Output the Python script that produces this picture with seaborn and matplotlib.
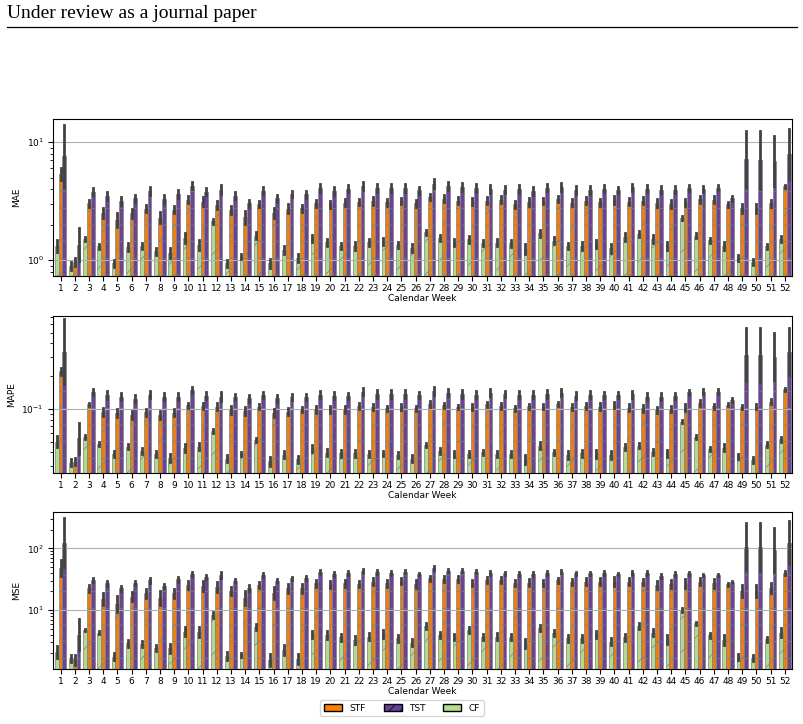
import matplotlib
matplotlib.use('Agg')
import matplotlib.pyplot as plt
from matplotlib.patches import Patch
from matplotlib.lines import Line2D
import seaborn as sns
import pandas as pd

weeks = list(range(1, 53))
models = ['CF', 'STF', 'TST']
legend_order = ['STF', 'TST', 'CF']
colors = {'STF': '#ff7f00', 'TST': '#6a3d9a', 'CF': '#b2df8a'}

# bar heights (median over runs)
mae_cf = [1.32, 0.89, 1.52, 1.32, 0.94, 1.29, 1.31, 1.19, 1.16, 1.54, 1.35, 2.14, 0.94,
          1.07, 1.61, 0.94, 1.22, 1.04, 1.54, 1.42, 1.32, 1.32, 1.42, 1.44, 1.35, 1.26,
          1.73, 1.54, 1.41, 1.51, 1.41, 1.41, 1.39, 1.25, 1.69, 1.46, 1.32, 1.32, 1.37,
          1.26, 1.57, 1.67, 1.51, 1.32, 2.27, 1.61, 1.47, 1.32, 1.04, 0.97, 1.32, 1.51]
mae_stf = [5.36, 0.97, 3.04, 2.50, 2.20, 2.50, 2.72, 2.30, 2.67, 3.25, 3.12, 2.92, 2.67,
           2.31, 3.00, 2.50, 2.72, 2.76, 3.04, 2.98, 3.06, 3.14, 3.18, 3.10, 3.18, 3.04,
           3.42, 3.31, 3.20, 3.12, 3.18, 3.25, 2.98, 3.10, 3.18, 3.31, 3.08, 3.18, 3.10,
           3.25, 3.12, 3.18, 3.04, 2.98, 3.08, 3.29, 3.25, 2.98, 2.76, 2.76, 3.04, 4.21]
mae_tst = [7.66, 1.35, 3.79, 3.49, 3.20, 3.36, 3.87, 3.31, 3.65, 4.26, 3.79, 3.95, 3.53,
           3.04, 3.87, 3.36, 3.65, 3.62, 4.07, 3.87, 4.02, 4.26, 4.07, 4.07, 4.07, 3.90,
           4.43, 4.26, 4.15, 4.07, 4.02, 3.95, 4.02, 3.87, 4.12, 4.20, 3.95, 3.95, 4.02,
           3.90, 4.15, 4.02, 3.95, 3.95, 4.07, 4.02, 4.12, 3.36, 7.17, 7.06, 6.94, 7.91]

mape_cf = [0.050, 0.032, 0.055, 0.048, 0.0385, 0.045, 0.041, 0.0385, 0.0356, 0.044, 0.045,
           0.063, 0.035, 0.0385, 0.052, 0.0332, 0.038, 0.0344, 0.0434, 0.0397, 0.039, 0.039,
           0.0385, 0.039, 0.0377, 0.035, 0.0466, 0.041, 0.0385, 0.0385, 0.040, 0.0385, 0.0385,
           0.034, 0.046, 0.040, 0.0377, 0.039, 0.0385, 0.0377, 0.045, 0.046, 0.040, 0.039,
           0.0765, 0.0556, 0.043, 0.044, 0.0365, 0.034, 0.047, 0.0526]
mape_stf = [0.221, 0.0327, 0.110, 0.094, 0.091, 0.088, 0.093, 0.088, 0.0925, 0.108, 0.107,
            0.105, 0.098, 0.096, 0.105, 0.091, 0.0945, 0.099, 0.099, 0.099, 0.099, 0.106,
            0.104, 0.101, 0.104, 0.101, 0.111, 0.108, 0.104, 0.104, 0.110, 0.106, 0.101,
            0.106, 0.105, 0.111, 0.104, 0.106, 0.105, 0.109, 0.103, 0.101, 0.098, 0.100,
            0.103, 0.113, 0.106, 0.109, 0.104, 0.105, 0.117, 0.152]
mape_tst = [0.337, 0.0537, 0.143, 0.134, 0.130, 0.124, 0.135, 0.130, 0.130, 0.150, 0.132,
            0.130, 0.128, 0.125, 0.135, 0.125, 0.128, 0.128, 0.135, 0.132, 0.132, 0.144,
            0.137, 0.137, 0.137, 0.135, 0.147, 0.141, 0.137, 0.135, 0.141, 0.137, 0.135,
            0.135, 0.137, 0.141, 0.132, 0.135, 0.135, 0.135, 0.136, 0.130, 0.130, 0.132,
            0.142, 0.144, 0.144, 0.121, 0.314, 0.314, 0.303, 0.337]

mse_cf = [2.1, 1.64, 4.74, 4.29, 1.75, 2.88, 2.8, 2.39, 2.39, 4.45, 4.45, 8.3, 1.8, 1.86,
          5.37, 1.55, 2.24, 1.6, 4.03, 3.9, 3.6, 3.26, 3.7, 4.08, 3.47, 2.95, 5.5, 3.9, 3.7,
          4.74, 3.6, 3.7, 3.7, 2.88, 5.17, 4.19, 3.47, 3.47, 4.03, 3.06, 3.6, 5.5, 4.29, 3.35,
          10.0, 6.1, 3.9, 3.26, 1.75, 1.64, 3.35, 4.3]
mse_stf = [47.4, 1.55, 22.4, 15.1, 12.4, 16.5, 18.6, 15.5, 18.6, 25.4, 24.5, 23.9, 20.3,
           15.5, 25.4, 18.6, 22.4, 22.4, 27.0, 26.0, 27.0, 26.4, 28.8, 27.0, 29.5, 26.4,
           32.7, 31.4, 31.4, 27.7, 30.6, 30.6, 27.0, 27.7, 27.7, 30.6, 28.8, 28.8, 28.8,
           28.8, 28.8, 28.8, 25.4, 26.4, 27.0, 28.8, 27.0, 26.0, 20.6, 20.6, 23.0, 40.3]
mse_tst = [124, 4.0, 30.6, 27.0, 22.4, 27.7, 30.6, 24.8, 31.4, 38.4, 34.7, 37.0, 29.9, 22.4,
           37.0, 29.9, 32.6, 33.4, 41.9, 38.4, 40.0, 42.9, 41.9, 40.0, 41.9, 38.4, 47.4, 43.5,
           43.5, 41.9, 40.0, 39.3, 38.4, 38.4, 40.0, 41.9, 39.3, 39.3, 40.0, 38.4, 40.0, 40.0,
           35.6, 38.4, 39.3, 37.0, 37.0, 28.8, 106, 106, 94, 124]

# error bar half-spread, as a factor around the bar height
mae_cf_err = [1.12, 1.08, 1.04, 1.05, 1.07, 1.08, 1.06, 1.07, 1.10, 1.10, 1.10, 1.05, 1.07,
              1.05, 1.07, 1.10, 1.09, 1.08, 1.07, 1.07, 1.07, 1.09, 1.07, 1.07, 1.06, 1.08,
              1.05, 1.06, 1.07, 1.07, 1.06, 1.07, 1.07, 1.10, 1.07, 1.07, 1.07, 1.08, 1.08,
              1.09, 1.08, 1.06, 1.08, 1.09, 1.04, 1.05, 1.06, 1.09, 1.06, 1.06, 1.05, 1.06]
mae_stf_err = [1.12, 1.08, 1.07, 1.10, 1.14, 1.09, 1.07, 1.12, 1.07, 1.07, 1.09, 1.08, 1.08,
               1.13, 1.06, 1.10, 1.09, 1.07, 1.07, 1.07, 1.07, 1.06, 1.08, 1.07, 1.06, 1.07,
               1.06, 1.07, 1.07, 1.07, 1.07, 1.07, 1.07, 1.08, 1.06, 1.06, 1.07, 1.07, 1.07,
               1.08, 1.07, 1.07, 1.08, 1.08, 1.08, 1.07, 1.07, 1.05, 1.09, 1.09, 1.07, 1.03]
mae_tst_err = [1.82, 1.38, 1.07, 1.08, 1.08, 1.07, 1.08, 1.08, 1.08, 1.07, 1.07, 1.09, 1.07,
               1.07, 1.07, 1.07, 1.06, 1.07, 1.08, 1.08, 1.07, 1.08, 1.08, 1.08, 1.08, 1.07,
               1.09, 1.08, 1.08, 1.08, 1.08, 1.07, 1.08, 1.08, 1.07, 1.08, 1.08, 1.08, 1.07,
               1.06, 1.07, 1.07, 1.07, 1.07, 1.06, 1.06, 1.05, 1.05, 1.72, 1.76, 1.62, 1.62]

mape_cf_err = [1.12, 1.08, 1.04, 1.04, 1.07, 1.06, 1.06, 1.07, 1.09, 1.09, 1.08, 1.04, 1.07,
               1.04, 1.05, 1.10, 1.08, 1.08, 1.07, 1.07, 1.07, 1.07, 1.07, 1.06, 1.06, 1.07,
               1.05, 1.06, 1.07, 1.07, 1.06, 1.07, 1.06, 1.10, 1.07, 1.06, 1.08, 1.08, 1.08,
               1.08, 1.07, 1.06, 1.07, 1.08, 1.04, 1.04, 1.05, 1.08, 1.06, 1.07, 1.05, 1.06]
mape_stf_err = [1.08, 1.08, 1.04, 1.08, 1.09, 1.08, 1.07, 1.08, 1.07, 1.06, 1.07, 1.08, 1.08,
                1.09, 1.05, 1.09, 1.08, 1.06, 1.07, 1.07, 1.07, 1.06, 1.07, 1.06, 1.06, 1.05,
                1.06, 1.06, 1.05, 1.06, 1.05, 1.06, 1.06, 1.05, 1.06, 1.05, 1.06, 1.06, 1.07,
                1.06, 1.07, 1.07, 1.07, 1.07, 1.07, 1.06, 1.05, 1.03, 1.05, 1.05, 1.05, 1.03]
mape_tst_err = [2.00, 1.38, 1.07, 1.08, 1.08, 1.08, 1.08, 1.08, 1.08, 1.07, 1.08, 1.09, 1.07,
                1.07, 1.07, 1.07, 1.07, 1.07, 1.08, 1.08, 1.07, 1.08, 1.08, 1.08, 1.08, 1.07,
                1.09, 1.08, 1.08, 1.08, 1.08, 1.07, 1.08, 1.08, 1.08, 1.08, 1.08, 1.08, 1.07,
                1.06, 1.07, 1.07, 1.07, 1.07, 1.06, 1.06, 1.05, 1.05, 1.75, 1.78, 1.65, 1.65]

mse_cf_err = [1.25, 1.15, 1.05, 1.07, 1.15, 1.15, 1.12, 1.12, 1.18, 1.18, 1.20, 1.10, 1.15,
              1.08, 1.12, 1.25, 1.20, 1.20, 1.15, 1.15, 1.15, 1.18, 1.15, 1.15, 1.15, 1.15,
              1.10, 1.12, 1.12, 1.12, 1.12, 1.15, 1.12, 1.18, 1.12, 1.12, 1.15, 1.15, 1.15,
              1.15, 1.15, 1.10, 1.15, 1.18, 1.07, 1.05, 1.10, 1.20, 1.12, 1.12, 1.10, 1.18]
mse_stf_err = [1.35, 1.20, 1.15, 1.25, 1.35, 1.20, 1.20, 1.30, 1.20, 1.18, 1.22, 1.20, 1.18,
               1.30, 1.12, 1.25, 1.20, 1.18, 1.15, 1.15, 1.15, 1.12, 1.15, 1.15, 1.12, 1.18,
               1.10, 1.12, 1.12, 1.12, 1.12, 1.12, 1.12, 1.15, 1.12, 1.10, 1.12, 1.15, 1.15,
               1.18, 1.15, 1.12, 1.15, 1.18, 1.18, 1.15, 1.18, 1.05, 1.25, 1.25, 1.20, 1.08]
mse_tst_err = [2.50, 1.80, 1.07, 1.10, 1.10, 1.08, 1.10, 1.08, 1.10, 1.07, 1.07, 1.10, 1.05,
               1.12, 1.07, 1.05, 1.05, 1.07, 1.08, 1.08, 1.07, 1.08, 1.08, 1.07, 1.07, 1.05,
               1.08, 1.07, 1.07, 1.07, 1.07, 1.05, 1.07, 1.07, 1.07, 1.07, 1.07, 1.07, 1.07,
               1.05, 1.07, 1.07, 1.07, 1.07, 1.05, 1.05, 1.05, 1.03, 2.40, 2.45, 2.30, 2.20]


def to_frame(values, spreads):
    # three observations per bar: median = bar height, min/max = error bar
    rows = {'week': [], 'model': [], 'value': []}
    for model in models:
        for w, v, f in zip(weeks, values[model], spreads[model]):
            for x in (v / f, v, v * f):
                rows['week'].append(w)
                rows['model'].append(model)
                rows['value'].append(x)
    return pd.DataFrame(rows)


panels = [
    ('MAE', {'CF': mae_cf, 'STF': mae_stf, 'TST': mae_tst},
     {'CF': mae_cf_err, 'STF': mae_stf_err, 'TST': mae_tst_err}, (0.732, 15.7)),
    ('MAPE', {'CF': mape_cf, 'STF': mape_stf, 'TST': mape_tst},
     {'CF': mape_cf_err, 'STF': mape_stf_err, 'TST': mape_tst_err}, (0.0258, 0.72)),
    ('MSE', {'CF': mse_cf, 'STF': mse_stf, 'TST': mse_tst},
     {'CF': mse_cf_err, 'STF': mse_stf_err, 'TST': mse_tst_err}, (1.09, 393)),
]
hatches = {'CF': '/', 'STF': '/-', 'TST': '-'}

plt.rcParams['font.size'] = 6.5
plt.rcParams['hatch.linewidth'] = 0.5
fig = plt.figure(figsize=(8.04, 7.24), dpi=100)
boxes = [[0.0665, 0.6184, 0.9185, 0.2173],
         [0.0665, 0.3467, 0.9185, 0.2173],
         [0.0665, 0.0755, 0.9185, 0.2177]]

for box, (name, values, spreads, lims) in zip(boxes, panels):
    ax = fig.add_axes(box)
    df = to_frame(values, spreads)
    sns.barplot(data=df, x='week', y='value', hue='model', hue_order=models,
                palette=colors, saturation=0.85, estimator='median', errorbar=('pi', 100),
                err_kws={'color': '.26', 'linewidth': 2.0},
                edgecolor='grey', linewidth=0.5, legend=False, ax=ax)
    for model, cont in zip(models, ax.containers):
        for bar in cont:
            bar.set_hatch(hatches[model])
    ax.set_yscale('log')
    ax.set_ylim(*lims)
    ax.grid(axis='y', which='major', color='#b0b0b0', linewidth=0.8)
    ax.set_ylabel(name)
    ax.set_xlabel('Calendar Week', labelpad=1)
    ax.tick_params(axis='x', pad=2)

handles = [Patch(facecolor=colors[m], edgecolor='black',
                 hatch='///' if m == 'TST' else None, label=m) for m in legend_order]
fig.legend(handles=handles, loc='center', bbox_to_anchor=(0.5, 0.022), ncol=3,
           fontsize=6.5, frameon=True)

fig.text(0.009, 0.9758, 'Under review as a journal paper', family='Liberation Serif',
         fontsize=14, va='baseline')
fig.add_artist(Line2D([0.009, 0.991], [1 - 27 / 724] * 2, color='black', linewidth=0.9,
                      transform=fig.transFigure))

fig.savefig('out.png', dpi=100)
